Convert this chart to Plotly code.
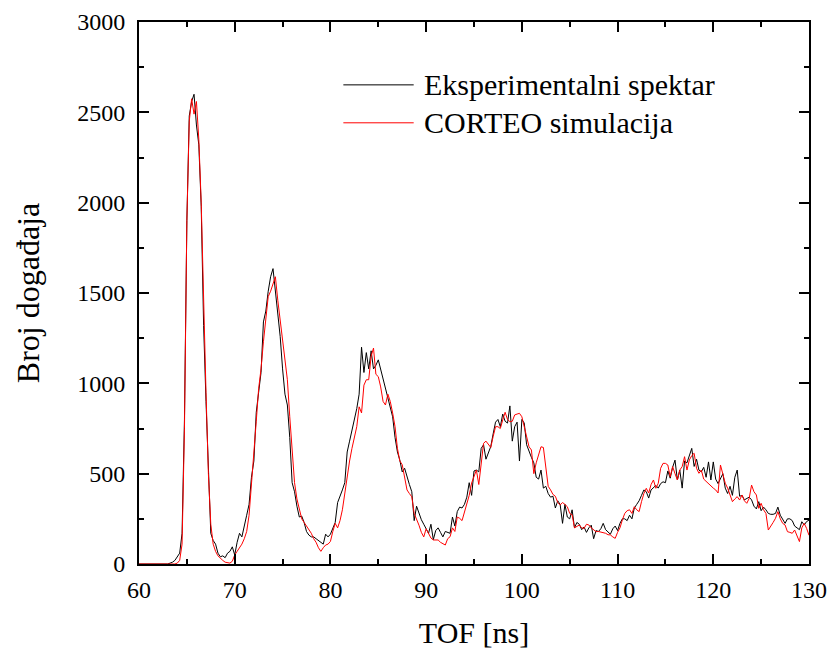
import numpy as np
import plotly.graph_objects as go

# TOF grid [ns]
tof = np.arange(60.0, 130.001, 0.25)

# Eksperimentalni spektar (0.25 ns steps)
exp_counts = [
    0, 0, 0, 0, 0, 0, 0, 0, 0, 0, 0, 0, 0, 5,          # 60.00 - 63.25
    10, 20, 40, 60, 170, 800, 1900, 2480, 2560, 2600,  # 63.5 - 65.75
    2430, 2320, 1980, 1320, 900, 480, 170, 130,        # 66.0 - 67.75
    110, 60, 40, 45, 35, 60, 70, 95,                   # 68.0 - 69.75
    50, 120, 170, 150, 220, 270, 330, 480,             # 70.0 - 71.75
    570, 840, 950, 1060, 1340, 1400, 1510, 1590,       # 72.0 - 73.75
    1635, 1510, 1370, 1260, 1080, 940, 880, 700,       # 74.0 - 75.75
    450, 400, 320, 260, 265, 230, 180, 160,            # 76.0 - 77.75
    150, 150, 140, 130, 125, 110, 165, 150,            # 78.0 - 79.75
    165, 200, 230, 340, 370, 410, 450, 620,            # 80.0 - 81.75
    680, 740, 790, 860, 940, 1200, 1060, 1170,         # 82.0 - 83.75
    1080, 1180, 1080, 1100, 1130, 1080, 1020, 970,     # 84.0 - 85.75
    930, 870, 815, 700, 620, 575, 510, 530,            # 86.0 - 87.75
    480, 440, 400, 240, 320, 280, 245, 220,            # 88.0 - 89.75
    190, 170, 220, 135, 185, 200, 175, 150,            # 90.0 - 91.75
    180, 175, 170, 260, 210, 290, 315, 310,            # 92.0 - 93.75
    330, 370, 450, 380, 515, 520, 510, 640,            # 94.0 - 95.75
    660, 580, 615, 650, 720, 785, 800, 760,            # 96.0 - 97.75
    830, 790, 780, 875, 680, 760, 785, 570,            # 98.0 - 99.75
    800, 780, 660, 630, 590, 560, 480, 470,            # 100.0 - 101.75
    520, 420, 430, 390, 370, 375, 310, 350,            # 102.0 - 103.75
    330, 225, 330, 260, 250, 300, 200, 230,            # 104.0 - 105.75
    220, 190, 205, 175, 200, 215, 140, 185,            # 106.0 - 107.75
    180, 195, 225, 190, 175, 165, 195, 210,            # 108.0 - 109.75
    185, 225, 250, 250, 240, 270, 250, 310,            # 110.0 - 111.75
    330, 350, 380, 410, 400, 365, 410, 420,            # 112.0 - 113.75
    435, 420, 445, 455, 450, 515, 475, 535,            # 114.0 - 115.75
    575, 465, 520, 420, 570, 560, 600, 640,            # 116.0 - 117.75
    540, 580, 520, 510, 535, 480, 565, 465,            # 118.0 - 119.75
    565, 470, 445, 470, 500, 420, 390, 430,            # 120.0 - 121.75
    380, 480, 520, 375, 380, 355, 365, 370,            # 122.0 - 123.75
    355, 320, 305, 345, 295, 315, 300, 280,            # 124.0 - 125.75
    275, 275, 280, 315, 270, 245, 225, 250,            # 126.0 - 127.75
    250, 240, 210, 200, 190, 234, 216, 235,            # 128.0 - 129.75
    243,                                               # 130.0
]

# CORTEO simulacija (0.25 ns steps)
sim_counts = [
    0, 0, 0, 0, 0, 0, 0, 0, 0, 0, 0, 0, 0, 0,          # 60.00 - 63.25
    0, 0, 5, 20, 110, 750, 1900, 2450, 2575, 2490,     # 63.5 - 65.75
    2560, 2350, 2000, 1380, 950, 500, 220, 110,        # 66.0 - 67.75
    70, 45, 30, 20, 10, 6, 5, 15,                      # 68.0 - 69.75
    50, 70, 90, 110, 140, 180, 270, 430,               # 70.0 - 71.75
    600, 790, 970, 1080, 1230, 1360, 1480, 1510,       # 72.0 - 73.75
    1545, 1590, 1460, 1350, 1230, 1150, 1020, 815,     # 74.0 - 75.75
    600, 450, 360, 300, 250, 230, 210, 190,            # 76.0 - 77.75
    170, 140, 120, 90, 70, 90, 105, 110,               # 78.0 - 79.75
    125, 180, 225, 200, 240, 300, 400, 490,            # 80.0 - 81.75
    570, 640, 700, 760, 870, 836, 990, 1020,           # 82.0 - 83.75
    1020, 1150, 1195, 1050, 1037, 980, 900, 880,       # 84.0 - 85.75
    940, 900, 836, 760, 640, 570, 550, 470,            # 86.0 - 87.75
    410, 390, 372, 280, 250, 215, 175, 150,            # 88.0 - 89.75
    195, 170, 144, 133, 133, 133, 120, 114,            # 90.0 - 91.75
    105, 140, 151, 200, 180, 260, 253, 240,            # 92.0 - 93.75
    290, 336, 380, 448, 480, 520, 440, 540,            # 94.0 - 95.75
    668, 680, 660, 645, 705, 760, 760, 750,            # 96.0 - 97.75
    797, 840, 800, 788, 790, 825, 830, 834,            # 98.0 - 99.75
    815, 760, 690, 649, 631, 500, 560, 603,            # 100.0 - 101.75
    649, 645, 520, 430, 410, 385, 375, 340,            # 102.0 - 103.75
    327, 340, 330, 317, 280, 272, 200, 207,            # 104.0 - 105.75
    216, 200, 197, 220, 216, 200, 188, 179,            # 106.0 - 107.75
    180, 178, 172, 170, 162, 161, 150, 142,            # 108.0 - 109.75
    175, 200, 244, 280, 295, 300, 280, 317,            # 110.0 - 111.75
    300, 290, 345, 390, 419, 393, 440, 465,            # 112.0 - 113.75
    419, 447, 530, 557, 557, 548, 483, 539,            # 114.0 - 115.75
    500, 465, 520, 539, 594, 520, 576, 600,            # 116.0 - 117.75
    613, 530, 502, 520, 470, 456, 447, 428,            # 118.0 - 119.75
    420, 410, 393, 548, 493, 447, 420, 382,            # 120.0 - 121.75
    345, 360, 373, 354, 382, 350, 336, 363,            # 122.0 - 123.75
    437, 400, 382, 308, 336, 300, 280, 188,            # 124.0 - 125.75
    207, 230, 253, 290, 250, 225, 216, 179,            # 126.0 - 127.75
    175, 170, 188, 160, 124, 200, 225, 197,            # 128.0 - 129.75
    159,                                               # 130.0
]

series_names = ["Eksperimentalni spektar", "CORTEO simulacija"]
series_colors = ["#000000", "#ff0000"]

x_ticks = [60, 70, 80, 90, 100, 110, 120, 130]
y_ticks = [0, 500, 1000, 1500, 2000, 2500, 3000]

FONT = "Liberation Serif, Times New Roman, serif"

fig = go.Figure()
fig.add_trace(go.Scatter(x=tof, y=exp_counts, mode="lines", name=series_names[0],
                         line=dict(color=series_colors[0], width=1)))
fig.add_trace(go.Scatter(x=tof, y=sim_counts, mode="lines", name=series_names[1],
                         line=dict(color=series_colors[1], width=1)))

axis_common = dict(
    showgrid=False, zeroline=False, showline=True, linecolor="black", linewidth=2,
    mirror="ticks", ticks="inside", ticklen=10, tickwidth=2, tickcolor="black",
    tickfont=dict(family=FONT, size=24, color="black"),
)
fig.update_xaxes(range=[60, 130], tickvals=x_ticks, ticktext=[str(v) for v in x_ticks],
                 minor=dict(ticks="inside", ticklen=5, tickwidth=2, dtick=5, tick0=60,
                            tickcolor="black", showgrid=False),
                 title=dict(text="TOF [ns]", font=dict(family=FONT, size=30, color="black"),
                            standoff=20),
                 ticklabelstandoff=3,
                 **axis_common)
fig.update_yaxes(range=[0, 3000], tickvals=y_ticks, ticktext=[str(v) for v in y_ticks],
                 minor=dict(ticks="inside", ticklen=5, tickwidth=2, dtick=250, tick0=0,
                            tickcolor="black", showgrid=False),
                 title=dict(text="Broj događaja", font=dict(family=FONT, size=32, color="black"),
                            standoff=28),
                 ticklabelstandoff=7,
                 **axis_common)

# legend drawn as line samples + text
leg_y = [0.884, 0.814]
for i in range(2):
    fig.add_shape(type="line", xref="paper", yref="paper",
                  x0=0.305, x1=0.41, y0=leg_y[i], y1=leg_y[i],
                  line=dict(color=series_colors[i], width=1))
    fig.add_annotation(xref="paper", yref="paper", x=0.422, y=leg_y[i],
                       xanchor="left", yanchor="middle", showarrow=False,
                       text=series_names[i],
                       font=dict(family=FONT, size=30, color="black"))

fig.update_layout(
    width=831, height=653,
    margin=dict(l=139, r=22, t=22, b=89, autoexpand=False),
    plot_bgcolor="white", paper_bgcolor="white",
    showlegend=False,
)

fig.write_html("out.html",
               config={"displayModeBar": False},
               post_script="document.body.style.margin='0';document.body.style.overflow='hidden';")
